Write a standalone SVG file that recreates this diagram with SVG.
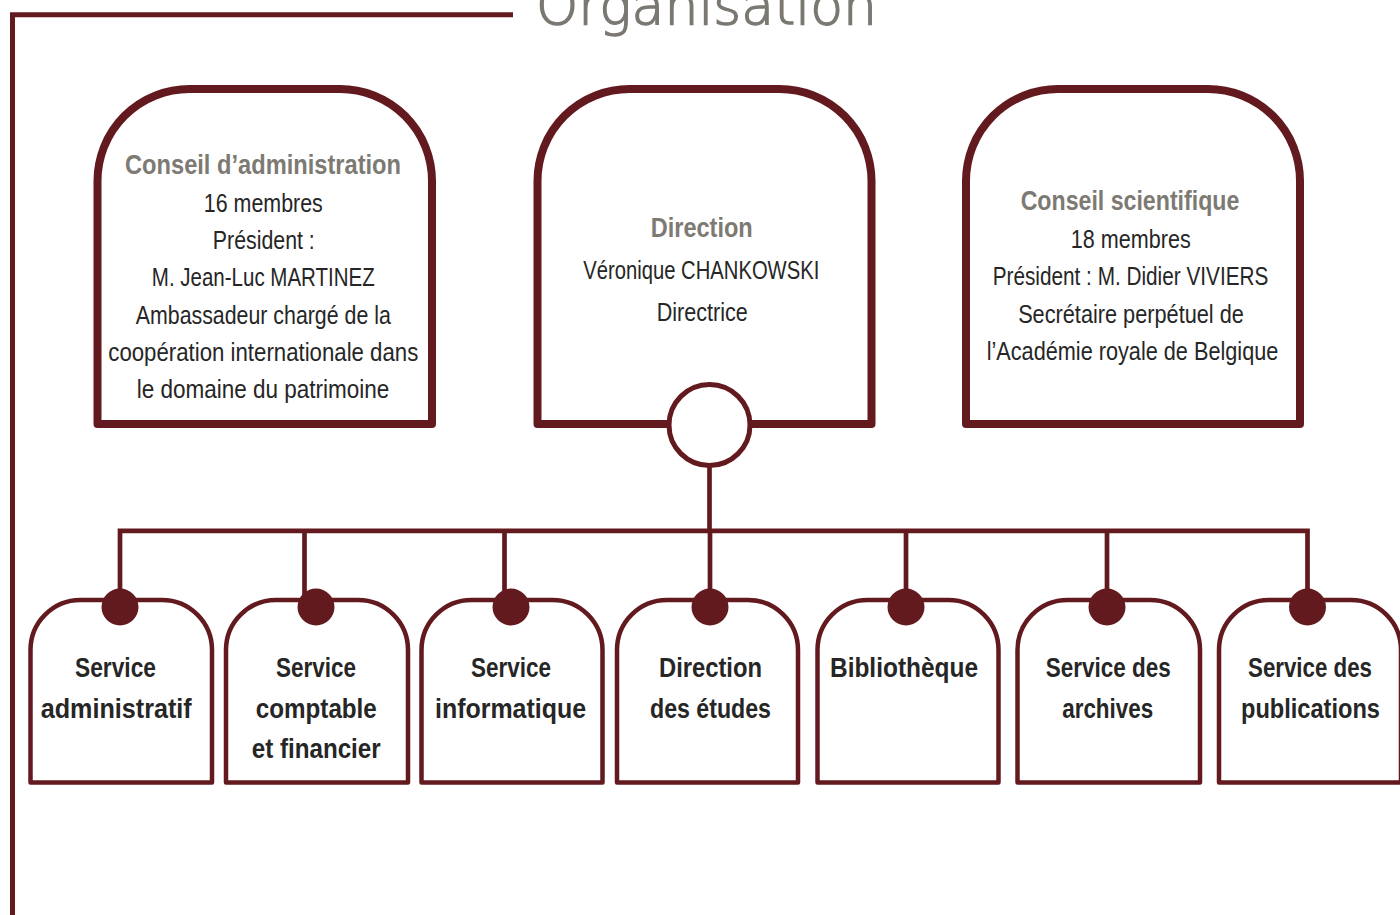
<svg xmlns="http://www.w3.org/2000/svg" width="1400" height="915" viewBox="0 0 1400 915">
<style>
.frame{fill:none;stroke:#631a1f;stroke-width:5}
.big{fill:#fff;stroke:#631a1f;stroke-width:8;stroke-linejoin:round}
.small{fill:#fff;stroke:#631a1f;stroke-width:4.5;stroke-linejoin:round}
.conn{fill:none;stroke:#631a1f;stroke-width:4.7}
.dot{fill:#631a1f}
.hub{fill:#fff;stroke:#631a1f;stroke-width:5}
.title{font-family:"DejaVu Sans","Lato",sans-serif;font-weight:200;font-size:54px;fill:#7b7872;stroke:#7b7872;stroke-width:1.4}
.hd{font-family:"Liberation Sans Narrow","Liberation Sans",sans-serif;font-weight:bold;font-size:27px;fill:#7c7a73;text-anchor:middle}
.tx{font-family:"Liberation Sans Narrow","Liberation Sans",sans-serif;font-size:25px;fill:#262626;text-anchor:middle}
.txc{font-family:"Liberation Sans Narrow","Liberation Sans",sans-serif;font-size:26.5px;fill:#262626;text-anchor:middle}
.sb{font-family:"Liberation Sans Narrow","Liberation Sans",sans-serif;font-weight:bold;font-size:28px;fill:#262626;text-anchor:middle}
</style>
<rect width="1400" height="915" fill="#fff"/>
<g id="frame">
<path class="frame" d="M12.5 915 V14.8 H513"/>
<text class="title" x="536" y="24" textLength="341" lengthAdjust="spacingAndGlyphs">Organisation</text>
</g>
<g id="connectors">
<path class="conn" d="M709.5 466 V530.8"/>
<path class="conn" d="M120 607 V530.8 H1307.5 V607"/>
<path class="conn" d="M304.5 530.8 V600"/>
<path class="conn" d="M504.5 530.8 V600"/>
<path class="conn" d="M710 530.8 V600"/>
<path class="conn" d="M906 530.8 V600"/>
<path class="conn" d="M1107 530.8 V600"/>
</g>
<g id="conseil-administration">
<path class="big" d="M97.5 424 V181 A92 92 0 0 1 189.5 89 H340 A92 92 0 0 1 432 181 V424 Z"/>
<text class="hd" x="263" y="174.3" textLength="276" lengthAdjust="spacingAndGlyphs">Conseil d’administration</text>
<text class="tx" x="263.3" y="211.7" textLength="119" lengthAdjust="spacingAndGlyphs">16 membres</text>
<text class="tx" x="263.8" y="249" textLength="102" lengthAdjust="spacingAndGlyphs">Président :</text>
<text class="tx" x="263.3" y="286.3" textLength="223" lengthAdjust="spacingAndGlyphs">M. Jean-Luc MARTINEZ</text>
<text class="tx" x="263.3" y="323.6" textLength="255" lengthAdjust="spacingAndGlyphs">Ambassadeur chargé de la</text>
<text class="tx" x="263.3" y="361" textLength="310" lengthAdjust="spacingAndGlyphs">coopération internationale dans</text>
<text class="tx" x="263" y="398.3" textLength="252.7" lengthAdjust="spacingAndGlyphs">le domaine du patrimoine</text>
</g>
<g id="direction">
<path class="big" d="M537.5 424 V181 A92 92 0 0 1 629.5 89 H779.5 A92 92 0 0 1 871.5 181 V424 Z"/>
<text class="hd" x="701.7" y="237" textLength="102" lengthAdjust="spacingAndGlyphs" style="font-size:28px">Direction</text>
<text class="txc" x="701.3" y="279" textLength="236" lengthAdjust="spacingAndGlyphs">Véronique CHANKOWSKI</text>
<text class="txc" x="702.2" y="321" textLength="91" lengthAdjust="spacingAndGlyphs">Directrice</text>
<circle class="hub" cx="709.5" cy="425" r="40.5"/>
</g>
<g id="conseil-scientifique">
<path class="big" d="M966 424 V181 A92 92 0 0 1 1058 89 H1208 A92 92 0 0 1 1300 181 V424 Z"/>
<text class="hd" x="1130" y="209.5" textLength="218.7" lengthAdjust="spacingAndGlyphs">Conseil scientifique</text>
<text class="tx" x="1130.7" y="248" textLength="120" lengthAdjust="spacingAndGlyphs">18 membres</text>
<text class="tx" x="1130.5" y="285.3" textLength="275.7" lengthAdjust="spacingAndGlyphs">Président : M. Didier VIVIERS</text>
<text class="tx" x="1131" y="322.7" textLength="225.7" lengthAdjust="spacingAndGlyphs">Secrétaire perpétuel de</text>
<text class="tx" x="1132.5" y="360" textLength="291.7" lengthAdjust="spacingAndGlyphs">l’Académie royale de Belgique</text>
</g>
<g id="service-administratif">
<path class="small" d="M30.5 782.5 V650 A50 50 0 0 1 80.5 600 H162 A50 50 0 0 1 212 650 V782.5 Z"/>
<circle class="dot" cx="120" cy="607" r="18.5"/>
<text class="sb" x="115.5" y="677" textLength="81" lengthAdjust="spacingAndGlyphs">Service</text>
<text class="sb" x="116.2" y="717.5" textLength="151" lengthAdjust="spacingAndGlyphs">administratif</text>
</g>
<g id="service-comptable">
<path class="small" d="M226 782.5 V650 A50 50 0 0 1 276 600 H358 A50 50 0 0 1 408 650 V782.5 Z"/>
<circle class="dot" cx="316" cy="607" r="18.5"/>
<text class="sb" x="316" y="677" textLength="80" lengthAdjust="spacingAndGlyphs">Service</text>
<text class="sb" x="316.3" y="717.5" textLength="121" lengthAdjust="spacingAndGlyphs">comptable</text>
<text class="sb" x="316.2" y="758" textLength="129" lengthAdjust="spacingAndGlyphs">et financier</text>
</g>
<g id="service-informatique">
<path class="small" d="M421.5 782.5 V650 A50 50 0 0 1 471.5 600 H552.5 A50 50 0 0 1 602.5 650 V782.5 Z"/>
<circle class="dot" cx="511" cy="607" r="18.5"/>
<text class="sb" x="511" y="677" textLength="80" lengthAdjust="spacingAndGlyphs">Service</text>
<text class="sb" x="510.5" y="717.5" textLength="151" lengthAdjust="spacingAndGlyphs">informatique</text>
</g>
<g id="direction-etudes">
<path class="small" d="M617 782.5 V650 A50 50 0 0 1 667 600 H748 A50 50 0 0 1 798 650 V782.5 Z"/>
<circle class="dot" cx="710" cy="607" r="18.5"/>
<text class="sb" x="710.5" y="677" textLength="103" lengthAdjust="spacingAndGlyphs">Direction</text>
<text class="sb" x="710.5" y="717.5" textLength="121" lengthAdjust="spacingAndGlyphs">des études</text>
</g>
<g id="bibliotheque">
<path class="small" d="M817.5 782.5 V650 A50 50 0 0 1 867.5 600 H948.5 A50 50 0 0 1 998.5 650 V782.5 Z"/>
<circle class="dot" cx="906" cy="607" r="18.5"/>
<text class="sb" x="904" y="677" textLength="148" lengthAdjust="spacingAndGlyphs">Bibliothèque</text>
</g>
<g id="service-archives">
<path class="small" d="M1017.5 782.5 V650 A50 50 0 0 1 1067.5 600 H1150 A50 50 0 0 1 1200 650 V782.5 Z"/>
<circle class="dot" cx="1107" cy="607" r="18.5"/>
<text class="sb" x="1108.2" y="677" textLength="125" lengthAdjust="spacingAndGlyphs">Service des</text>
<text class="sb" x="1107.7" y="717.5" textLength="91" lengthAdjust="spacingAndGlyphs">archives</text>
</g>
<g id="service-publications">
<path class="small" d="M1219 782.5 V650 A50 50 0 0 1 1269 600 H1351 A50 50 0 0 1 1401 650 V782.5 Z"/>
<circle class="dot" cx="1307.5" cy="607" r="18.5"/>
<text class="sb" x="1310" y="677" textLength="124" lengthAdjust="spacingAndGlyphs">Service des</text>
<text class="sb" x="1310.5" y="717.5" textLength="139" lengthAdjust="spacingAndGlyphs">publications</text>
</g>
</svg>
